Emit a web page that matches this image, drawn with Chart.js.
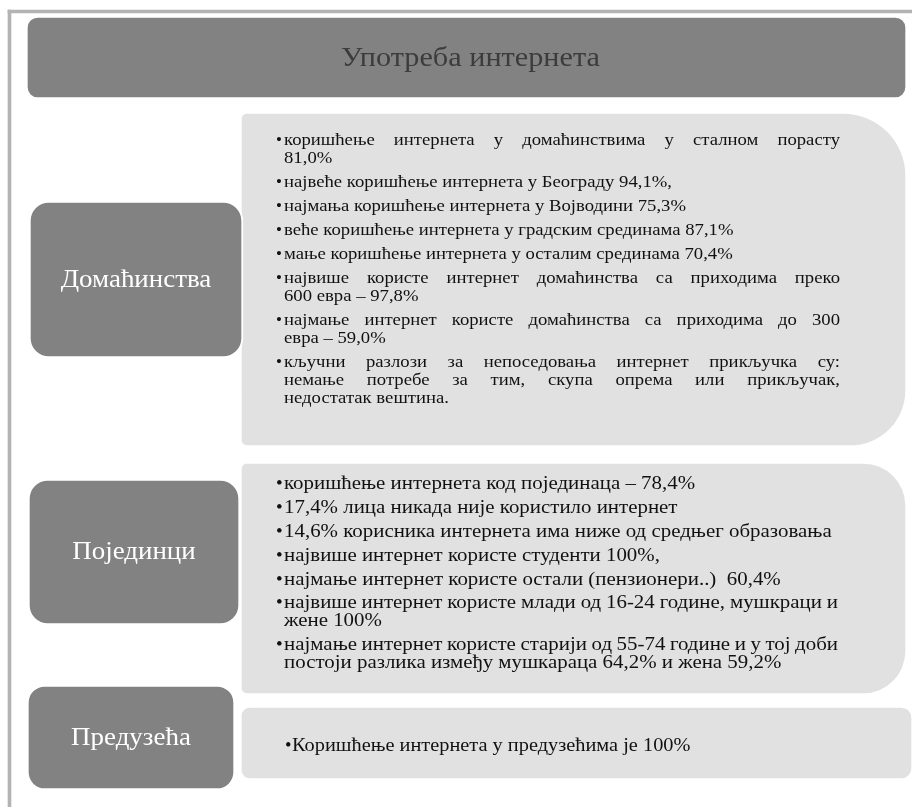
<!DOCTYPE html>
<html>
<head>
<meta charset="utf-8">
<script src="https://cdn.jsdelivr.net/npm/chart.js@4.4.0/dist/chart.umd.min.js"></script>
<style>
  html, body { margin: 0; padding: 0; background: #fff; }
  #wrap { width: 912px; height: 807px; }
</style>
</head>
<body>
<div id="wrap"><canvas id="myChart" width="912" height="807"></canvas></div>
<script>
// --- content ---
const title = "Употреба интернета";
const sections = ["Домаћинства", "Појединци", "Предузећа"];
const householdFacts = [
    "коришћење интернета у домаћинствима у сталном порасту\n81,0%",
    "највеће коришћење интернета у Београду 94,1%,",
    "најмања коришћење интернета у Војводини 75,3%",
    "веће коришћење интернета у градским срединама 87,1%",
    "мање коришћење интернета у осталим срединама 70,4%",
    "највише користе интернет домаћинства са приходима преко\n600 евра – 97,8%",
    "најмање интернет користе домаћинства са приходима до 300\nевра – 59,0%",
    "кључни разлози за непоседовања интернет прикључка су:\nнемање потребе за тим, скупа опрема или прикључак,\nнедостатак вештина."
];
const individualFacts = [
    "коришћење интернета код појединаца – 78,4%",
    "17,4% лица никада није користило интернет",
    "14,6% корисника интернета има ниже од средњег образовања",
    "највише интернет користе студенти 100%,",
    "најмање интернет користе остали (пензионери..)  60,4%",
    "највише интернет користе млади од 16-24 године, мушкраци и\nжене 100%",
    "најмање интернет користе старији од 55-74 године и у тој доби\nпостоји разлика између мушкараца 64,2% и жена 59,2%"
];
const companyFacts = [
    "Коришћење интернета у предузећима је 100%"
];
const facts = [householdFacts, individualFacts, companyFacts];

// --- layout (pixels of the 912x807 page) ---
const W = 912, H = 807;
const FONT = '"Liberation Serif", "Times New Roman", serif';
const SX = 1.1; // the source text is slightly stretched horizontally
const frame = { x0: 8, x1: 912, y0: 10, y1: 807, t: 3 };
const titleBox = { x0: 28, x1: 905, y0: 18, y1: 97, r: 10 };
const labelBoxes = [
    { x0: 29, x1: 243, y0: 201, y1: 358, r: 20 },
    { x0: 28, x1: 240, y0: 479, y1: 625, r: 20 },
    { x0: 27, x1: 235, y0: 685, y1: 790, r: 18 }
];
const panels = [
    { x0: 242, x1: 905, y0: 114, y1: 445, r: { topLeft: 5, bottomLeft: 5, topRight: 62, bottomRight: 55 } },
    { x0: 242, x1: 905, y0: 464, y1: 693, r: { topLeft: 5, bottomLeft: 5, topRight: 42, bottomRight: 42 } },
    { x0: 242, x1: 911, y0: 708, y1: 778, r: { topLeft: 8, bottomLeft: 8, topRight: 10, bottomRight: 10 } }
];
const textStyles = [
    { size: 17, lineH: 18, gap: 6, padTop: 27, bulletX: 276, textX: 284, rightX: 840 },
    { size: 19, lineH: 18, gap: 5.8, padTop: 20.5, bulletX: 276, textX: 284, rightX: 838 },
    { size: 18.5, lineH: 18, gap: 0, padTop: 38, bulletX: 285, textX: 292, rightX: 840 }
];

function barSet(box, color, radius, order, border) {
    return {
        data: [{ x: [box.x0, box.x1], y: (box.y0 + box.y1) / 2 }],
        barThickness: box.y1 - box.y0,
        backgroundColor: color,
        borderColor: border ? "#ffffff" : color,
        borderWidth: border ? 2 : 0,
        borderSkipped: false,
        borderRadius: radius,
        grouped: false,
        order: order
    };
}

const datasets = [];
// outer frame lines (top and left)
datasets.push(barSet({ x0: frame.x0, x1: frame.x1, y0: frame.y0, y1: frame.y0 + frame.t }, "#b3b3b3", 0, 5, false));
datasets.push(barSet({ x0: frame.x0, x1: frame.x0 + frame.t, y0: frame.y0, y1: frame.y1 }, "#b3b3b3", 0, 5, false));
const titleIndex = datasets.length;
datasets.push(barSet(titleBox, "#828282", titleBox.r, 1, false));
const panelIndex = datasets.length;
panels.forEach((p) => datasets.push(barSet(p, "#e1e1e1", p.r, 3, false)));
const labelIndex = datasets.length;
labelBoxes.forEach((b) => datasets.push(barSet(b, "#828282", b.r, 1, true)));

function boxOf(chart, i) {
    const el = chart.getDatasetMeta(i).data[0];
    const p = el.getProps(["x", "y", "base", "height"], true);
    return { left: Math.min(p.x, p.base), right: Math.max(p.x, p.base), top: p.y - p.height / 2, bottom: p.y + p.height / 2, cx: (p.x + p.base) / 2, cy: p.y };
}

// text drawn stretched by SX around its anchor
function stretchedText(ctx, text, x, y, align) {
    ctx.save();
    ctx.translate(x, y);
    ctx.scale(SX, 1);
    ctx.textAlign = align;
    ctx.fillText(text, 0, 0);
    ctx.restore();
}

function drawLine(ctx, line, x, y, avail, justify) {
    ctx.save();
    ctx.translate(x, y);
    ctx.scale(SX, 1);
    if (!justify) {
        ctx.fillText(line, 0, 0);
    } else {
        const words = line.split(" ").filter((w) => w.length);
        const total = words.reduce((s, w) => s + ctx.measureText(w).width, 0);
        const space = words.length > 1 ? (avail / SX - total) / (words.length - 1) : 0;
        let cx = 0;
        words.forEach((w) => {
            ctx.fillText(w, cx, 0);
            cx += ctx.measureText(w).width + space;
        });
    }
    ctx.restore();
}

const textPlugin = {
    id: "diagramText",
    afterDatasetsDraw(chart) {
        const ctx = chart.ctx;
        ctx.save();
        ctx.textBaseline = "middle";

        // heading
        const tb = boxOf(chart, titleIndex);
        ctx.fillStyle = "#3c3c3c";
        ctx.font = "27.5px " + FONT;
        stretchedText(ctx, title, tb.cx + 4, tb.cy + 1, "center");

        // section labels
        ctx.fillStyle = "#ffffff";
        ctx.font = "24.5px " + FONT;
        sections.forEach((s, i) => {
            const b = boxOf(chart, labelIndex + i);
            stretchedText(ctx, s, b.cx, b.cy + 1, "center");
        });

        // bullet texts
        ctx.textAlign = "left";
        ctx.fillStyle = "#111111";
        facts.forEach((list, i) => {
            const st = textStyles[i];
            const pb = boxOf(chart, panelIndex + i);
            ctx.font = st.size + "px " + FONT;
            let y = pb.top + st.padTop;
            list.forEach((item) => {
                const lines = item.split("\n");
                ctx.fillText("•", st.bulletX, y);
                lines.forEach((line, j) => {
                    drawLine(ctx, line, st.textX, y, st.rightX - st.textX, j < lines.length - 1);
                    y += st.lineH;
                });
                y += st.gap;
            });
        });
        ctx.restore();
    }
};

const ctx = document.getElementById("myChart").getContext("2d");
new Chart(ctx, {
    type: "bar",
    data: { datasets: datasets },
    options: {
        indexAxis: "y",
        responsive: false,
        animation: false,
        events: [],
        layout: { padding: 0 },
        plugins: { legend: { display: false }, tooltip: { enabled: false } },
        scales: {
            x: { type: "linear", min: 0, max: W, offset: false, display: false },
            y: { type: "linear", min: 0, max: H, reverse: true, offset: false, display: false }
        }
    },
    plugins: [textPlugin]
});
</script>
</body>
</html>
